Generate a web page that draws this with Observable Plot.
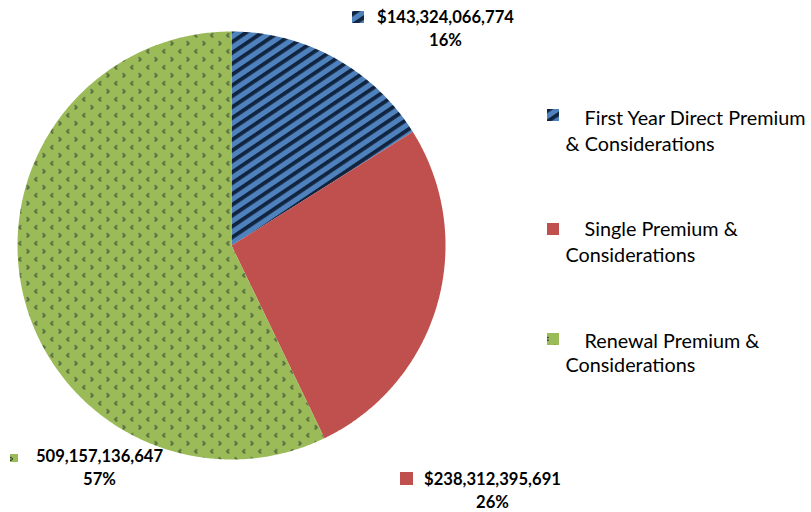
<!DOCTYPE html>
<html>
<head>
<meta charset="utf-8">
<script src="https://cdn.jsdelivr.net/npm/d3@7"></script>
<script src="https://cdn.jsdelivr.net/npm/@observablehq/plot@0.6"></script>
<style>
  html, body { margin: 0; padding: 0; background: #fff; }
  #chart svg { display: block; }
</style>
</head>
<body>
<div id="chart"></div>
<script>
// ---- data ----
const categories = [
  "First Year Direct Premium & Considerations",
  "Single Premium & Considerations",
  "Renewal Premium & Considerations"
];
const values = [143324066774, 238312395691, 509157136647];
const valueLabels = ["$143,324,066,774", "$238,312,395,691", "509,157,136,647"];
const percentLabels = ["16%", "26%", "57%"];
const legendLine1 = ["First Year Direct Premium", "Single Premium &", "Renewal Premium &"];
const legendLine2 = ["& Considerations", "Considerations", "Considerations"];

// ---- layout / style (not data) ----
const W = 811, H = 512;
const cx = 231, cy = 245, R = 214;
const fills = ["url(#pBlue)", "#C0504D", "url(#pGreen)"];
const labelLayout = [
  {mx: 352, my: 11, ms: 12, tx: 445, ty: 22, py: 45},
  {mx: 400, my: 472, ms: 13, tx: 492, ty: 484, py: 507},
  {mx: 10, my: 454, ms: 8, tx: 99, ty: 461, py: 484}
];
const legendLayout = [
  {mx: 547, my: 109, t1x: 584, t1y: 124, t2x: 565, t2y: 150},
  {mx: 547, my: 223, t1x: 584, t1y: 235, t2x: 565, t2y: 261},
  {mx: 547, my: 333, t1x: 584, t1y: 347, t2x: 565, t2y: 371}
];
const legendSize = 12;

const data = categories.map((c, i) => ({category: c, value: values[i], i}));
const arcs = d3.pie().sort(null).value(d => d.value)(data);

// polygon points for each slice, from the pie angles
const slicePoints = arcs.map(a => {
  const pts = [{x: cx, y: cy, i: a.data.i}];
  const n = Math.max(2, Math.ceil((a.endAngle - a.startAngle) / (Math.PI / 360)));
  for (let k = 0; k <= n; k++) {
    const t = a.startAngle + (a.endAngle - a.startAngle) * k / n;
    pts.push({x: cx + R * Math.sin(t), y: cy - R * Math.cos(t), i: a.data.i});
  }
  pts.push({x: cx, y: cy, i: a.data.i});
  return pts;
});

const labelRows = data.map((d, i) => ({
  ...labelLayout[i], value: valueLabels[i], pct: percentLabels[i], fill: fills[i], i
}));
const legendRows = data.map((d, i) => ({
  ...legendLayout[i], l1: legendLine1[i], l2: legendLine2[i], fill: fills[i], i
}));

// pattern defs as a render-function mark
function defsMark() {
  const ns = "http://www.w3.org/2000/svg";
  const defs = document.createElementNS(ns, "defs");
  defs.innerHTML = `
    <pattern id="pBlue" patternUnits="userSpaceOnUse" width="9" height="9" patternTransform="rotate(-34)">
      <rect width="9" height="9" fill="#4F81BD"/>
      <rect y="0" width="9" height="3.8" fill="#10243F"/>
    </pattern>
    <pattern id="pGreen" patternUnits="userSpaceOnUse" width="16" height="16">
      <rect width="16" height="16" fill="#9BBB59"/>
      <g fill="#18242F">
        <rect x="3.2" y="0.8" width="1.4" height="1.4"/>
        <rect x="1.8" y="2.2" width="1.4" height="1.4"/>
        <rect x="3.2" y="3.6" width="1.4" height="1.4"/>
        <rect x="10.2" y="8.8" width="1.4" height="1.4"/>
        <rect x="11.6" y="10.2" width="1.4" height="1.4"/>
        <rect x="10.2" y="11.6" width="1.4" height="1.4"/>
      </g>
    </pattern>`;
  return defs;
}

const sliceMarks = slicePoints.map((pts, i) =>
  Plot.line(pts, {x: "x", y: "y", fill: fills[i], stroke: "none", curve: "linear"})
);

const font = "Lato, 'Open Sans', sans-serif";

const chart = Plot.plot({
  width: W,
  height: H,
  margin: 0,
  x: {domain: [0, W], range: [0, W], axis: null},
  y: {domain: [0, H], range: [0, H], axis: null},
  style: {fontFamily: font, background: "#fff", color: "#000"},
  marks: [
    defsMark,
    ...sliceMarks,
    // data label markers
    ...labelRows.map(r => Plot.rect([r], {x1: "mx", x2: d => d.mx + d.ms, y1: "my", y2: d => d.my + d.ms, fill: r.fill})),
    Plot.text(labelRows, {x: "tx", y: "ty", text: "value", textAnchor: "middle", lineAnchor: "bottom", fontWeight: "bold", fontSize: 16.6, fill: "#000"}),
    Plot.text(labelRows, {x: "tx", y: "py", text: "pct", textAnchor: "middle", lineAnchor: "bottom", fontWeight: "bold", fontSize: 16.6, fill: "#000"}),
    // legend
    ...legendRows.map(r => Plot.rect([r], {x1: "mx", x2: d => d.mx + legendSize, y1: "my", y2: d => d.my + legendSize, fill: r.fill})),
    Plot.text(legendRows, {x: "t1x", y: "t1y", text: "l1", textAnchor: "start", lineAnchor: "bottom", fontSize: 19.8, fill: "#000"}),
    Plot.text(legendRows, {x: "t2x", y: "t2y", text: "l2", textAnchor: "start", lineAnchor: "bottom", fontSize: 19.8, fill: "#000"})
  ]
});

document.getElementById("chart").appendChild(chart);
</script>
</body>
</html>
